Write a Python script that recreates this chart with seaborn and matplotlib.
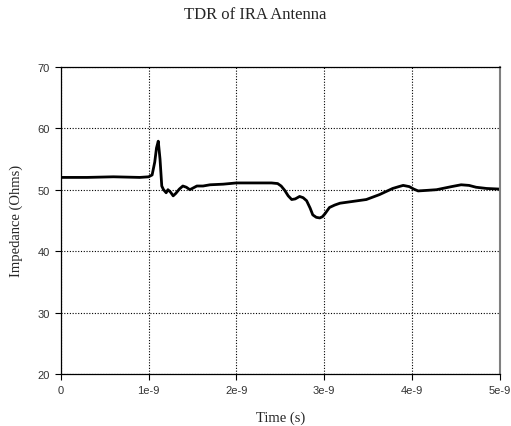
import numpy as np
import pandas as pd
import seaborn as sns
import matplotlib.pyplot as plt

# TDR trace (time in ns, impedance in ohms)
time_ns = [0.00, 0.30, 0.60, 0.90, 1.00, 1.04, 1.07, 1.09, 1.11, 1.13, 1.15, 1.17,
           1.20, 1.22, 1.25, 1.28, 1.31, 1.35, 1.39, 1.43, 1.47, 1.51, 1.55, 1.62,
           1.70, 1.85, 2.00, 2.20, 2.40, 2.47, 2.51, 2.55, 2.59, 2.63, 2.67, 2.72,
           2.76, 2.80, 2.84, 2.87, 2.91, 2.95, 2.98, 3.01, 3.06, 3.12, 3.18, 3.33,
           3.48, 3.63, 3.78, 3.85, 3.90, 3.97, 4.02, 4.07, 4.18, 4.28, 4.45, 4.56,
           4.65, 4.73, 4.85, 5.00]
impedance = [52.0, 52.0, 52.1, 52.0, 52.1, 52.4, 54.5, 56.8, 57.9, 55.0, 50.6, 50.0,
             49.5, 50.0, 49.6, 49.0, 49.4, 50.1, 50.6, 50.4, 50.0, 50.3, 50.6, 50.6,
             50.8, 50.9, 51.1, 51.1, 51.1, 51.0, 50.6, 49.9, 49.0, 48.4, 48.5, 48.9,
             48.7, 48.2, 47.0, 45.9, 45.5, 45.4, 45.6, 46.1, 47.1, 47.5, 47.8, 48.1,
             48.4, 49.2, 50.2, 50.5, 50.7, 50.5, 50.1, 49.8, 49.9, 50.0, 50.5, 50.8,
             50.7, 50.4, 50.2, 50.1]

x_ticks = [0, 1e-9, 2e-9, 3e-9, 4e-9, 5e-9]
x_tick_labels = ["0", "1e-9", "2e-9", "3e-9", "4e-9", "5e-9"]
y_ticks = [20, 30, 40, 50, 60, 70]

df = pd.DataFrame({"time": np.array(time_ns) * 1e-9, "impedance": impedance})

sns.set_style("white")
plt.rcParams["font.family"] = ["Liberation Sans", "DejaVu Sans"]

fig = plt.figure(figsize=(5.11, 4.27), dpi=100)
ax = fig.add_axes([0.119, 0.122, 0.859, 0.719])

sns.lineplot(data=df, x="time", y="impedance", ax=ax, color="black", linewidth=2.0)

ax.set_xlim(0, 5e-9)
ax.set_ylim(20, 70)
ax.set_xticks(x_ticks)
ax.set_xticklabels(x_tick_labels)
ax.set_yticks(y_ticks)
ax.grid(True, color="black", linestyle=(0, (1, 1.5)), linewidth=0.8)
ax.tick_params(axis="both", direction="out", length=4, width=0.8, color="black",
               labelsize=8, labelcolor="#333333", pad=4, bottom=True, left=True)

for side in ["left", "bottom", "top"]:
    ax.spines[side].set_color("black")
    ax.spines[side].set_linewidth(0.9)
ax.spines["right"].set_color("#808080")
ax.spines["right"].set_linewidth(1.5)

serif = {"family": "Liberation Serif", "size": 10.5}
ax.set_xlabel("Time (s)", fontdict=serif, labelpad=11)
ax.set_ylabel("Impedance (Ohms)", fontdict=serif, labelpad=10)
fig.text(0.5, 1 - 15 / 427, "TDR of IRA Antenna", ha="center", va="center",
         family="Liberation Serif", fontsize=12)

fig.savefig("out.png", dpi=100)
